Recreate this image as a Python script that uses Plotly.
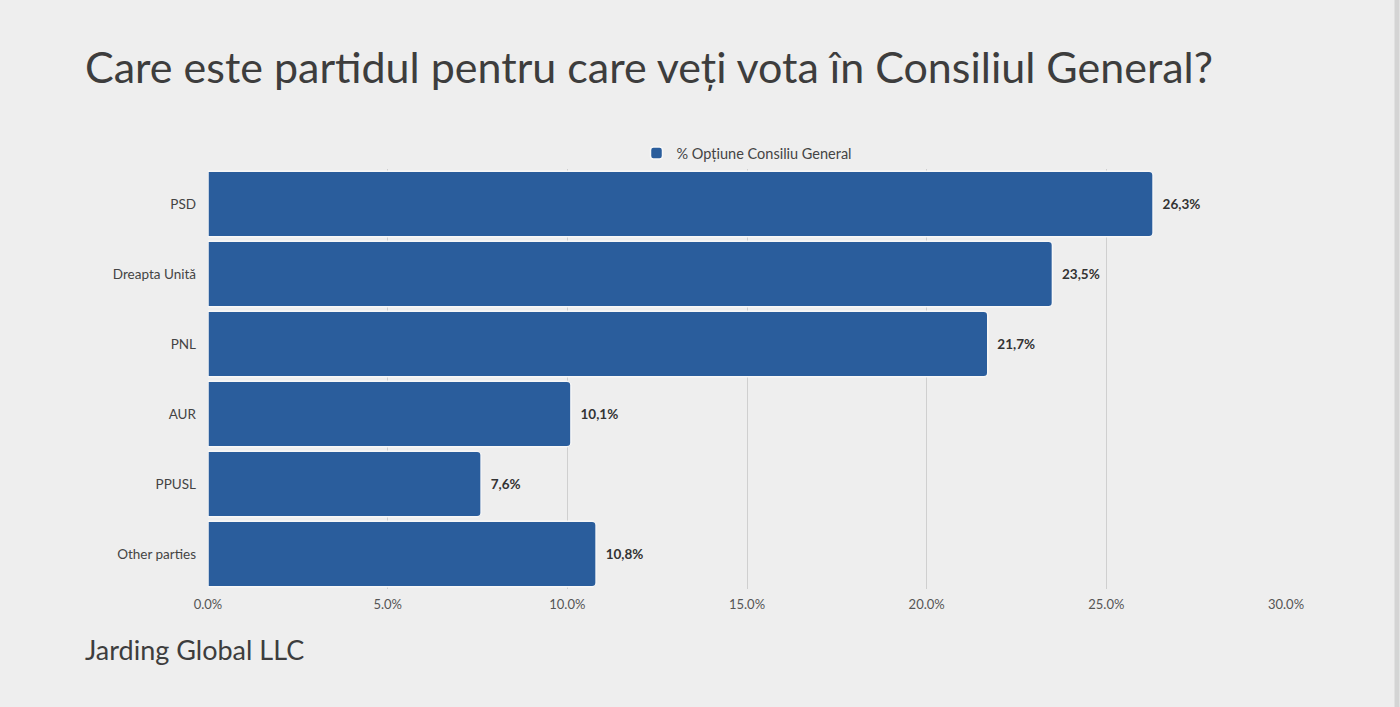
import plotly.graph_objects as go

# Données du sondage
parties = ['PSD', 'Dreapta Unită', 'PNL', 'AUR', 'PPUSL', 'Other parties']
values = [26.3, 23.5, 21.7, 10.1, 7.6, 10.8]
labels = ['26,3%', '23,5%', '21,7%', '10,1%', '7,6%', '10,8%']
tick_vals = [0, 5, 10, 15, 20, 25, 30]
tick_text = ['0.0%', '5.0%', '10.0%', '15.0%', '20.0%', '25.0%', '30.0%']

FONT = 'Lato, Open Sans, sans-serif'
BG = '#eeeeee'

fig = go.Figure(go.Bar(
    x=values,
    y=parties,
    orientation='h',
    name='% Opțiune Consiliu General',
    marker=dict(color='#2a5d9c', line=dict(color='#f7f7f7', width=1.5), cornerradius=4),
    text=labels,
    texttemplate='  %{text}',
    textposition='outside',
    textfont=dict(family=FONT, size=13.5, color='#333333', weight='bold'),
    cliponaxis=False,
))

fig.update_layout(
    width=1400, height=707,
    paper_bgcolor=BG, plot_bgcolor=BG,
    margin=dict(l=208, r=114, t=169, b=118),
    bargap=0.065,
    font=dict(family=FONT, size=13, color='#444444'),
    showlegend=True,
    legend=dict(orientation='h', x=0.5, xanchor='center', y=1.0, yanchor='bottom',
                font=dict(size=14.5, color='#444444'), bgcolor='rgba(0,0,0,0)'),
    xaxis=dict(range=[0, 30], tickvals=tick_vals, ticktext=tick_text,
               showgrid=True, gridcolor='#cfcfcf', gridwidth=1,
               zeroline=False, showline=False, ticks='',
               ticklabelstandoff=6,
               tickfont=dict(size=13, color='#555555')),
    yaxis=dict(autorange='reversed', ticks='', showgrid=False,
               ticklabelstandoff=11,
               tickfont=dict(size=13.5, color='#444444')),
)

fig.add_annotation(text='Care este partidul pentru care veți vota în Consiliul General?',
                   xref='paper', yref='paper', x=-125/1078, y=1.0 + (169 - 67) / 420,
                   xanchor='left', yanchor='middle', showarrow=False,
                   font=dict(family=FONT, size=43, color='#3d3d3d'))
fig.add_annotation(text='Jarding Global LLC',
                   xref='paper', yref='paper', x=-125/1078, y=-(649 - 589) / 420,
                   xanchor='left', yanchor='middle', showarrow=False,
                   font=dict(family=FONT, size=27, color='#3d3d3d'))

# bordure droite
fig.add_shape(type='line', xref='paper', yref='paper',
              x0=1 + 111/1078, x1=1 + 111/1078, y0=-118/420, y1=1 + 169/420,
              line=dict(color='#d4d4d4', width=5))

fig.write_html('out.html', config={'displayModeBar': False},
               post_script="document.body.style.margin='0';")
